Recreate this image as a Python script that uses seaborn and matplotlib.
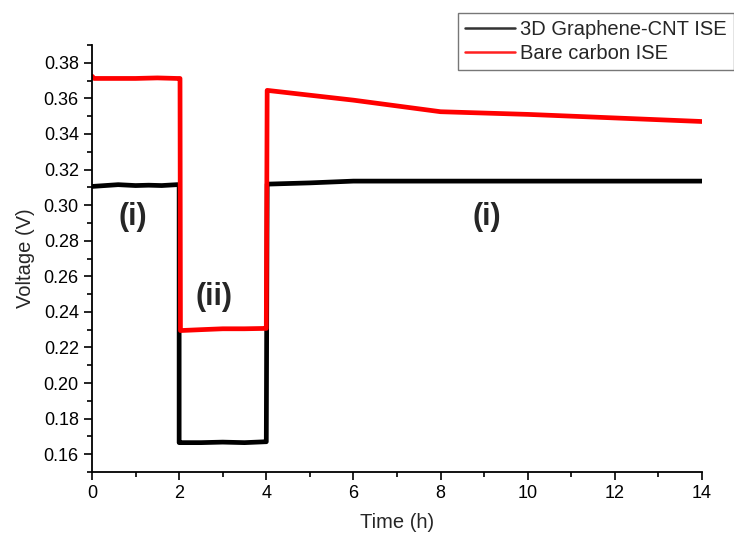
import matplotlib
matplotlib.use("Agg")
import matplotlib.pyplot as plt
import seaborn as sns
import pandas as pd
from matplotlib.lines import Line2D

# Data
t_gcnt = [0.0, 0.3, 0.6, 1.0, 1.3, 1.6, 1.95, 2.0, 2.0, 2.05, 2.5, 3.0, 3.5, 3.98, 4.0, 4.02, 5.0, 6.0, 8.0, 10.0, 12.0, 14.0]
v_gcnt = [0.3105, 0.3110, 0.3115, 0.3110, 0.3112, 0.3110, 0.3115, 0.3115, 0.1665, 0.1665, 0.1665, 0.1668, 0.1665, 0.1670, 0.1670, 0.3118, 0.3125, 0.3135, 0.3135, 0.3135, 0.3135, 0.3135]

t_bare = [0.0, 0.05, 0.5, 1.0, 1.5, 1.95, 2.02, 2.03, 2.5, 3.0, 3.5, 3.98, 4.0, 4.02, 6.0, 8.0, 10.0, 12.0, 14.0]
v_bare = [0.3725, 0.3712, 0.3712, 0.3712, 0.3715, 0.3712, 0.3712, 0.2295, 0.2300, 0.2305, 0.2305, 0.2307, 0.2307, 0.3645, 0.3590, 0.3525, 0.3510, 0.3490, 0.3470]

series_names = ["3D Graphene-CNT ISE", "Bare carbon ISE"]
x_ticks = [0, 2, 4, 6, 8, 10, 12, 14]
y_ticks = [0.16, 0.18, 0.20, 0.22, 0.24, 0.26, 0.28, 0.30, 0.32, 0.34, 0.36, 0.38]

df = pd.concat([
    pd.DataFrame({"t": t_gcnt, "v": v_gcnt, "s": series_names[0]}),
    pd.DataFrame({"t": t_bare, "v": v_bare, "s": series_names[1]}),
])

sns.set_style("ticks")
plt.rcParams["font.family"] = ["Liberation Sans", "DejaVu Sans"]

fig = plt.figure(figsize=(7.34, 5.39), dpi=100)
ax = fig.add_axes([92/734, 1 - 472/539, 610/734, (472-45)/539])

sns.lineplot(data=df, x="t", y="v", hue="s", palette={series_names[0]: "black", series_names[1]: "#ff0000"},
             estimator=None, sort=False, lw=3.4, ax=ax, legend=False)

ax.set_xlim(0, 14)
ax.set_ylim(0.15, 0.39)
ax.set_xticks(x_ticks)
ax.set_yticks(y_ticks)
ax.set_xticklabels([str(x) for x in x_ticks])
ax.set_yticklabels([f"{y:.2f}" for y in y_ticks])
ax.set_xticks([1, 3, 5, 7, 9, 11, 13], minor=True)
ax.set_yticks([0.15 + 0.02 * i for i in range(12)] + [0.39], minor=True)
ax.tick_params(which="major", direction="out", length=6, width=1.2, labelsize=13, colors="black", pad=3.5)
ax.tick_params(which="minor", direction="out", length=3.5, width=1.2, colors="black")
for sp in ["top", "right"]:
    ax.spines[sp].set_visible(False)
for sp in ["left", "bottom"]:
    ax.spines[sp].set_linewidth(1.3)
    ax.spines[sp].set_color("black")
ax.set_xlabel("Time (h)", fontsize=14.5, labelpad=8)
ax.set_ylabel("Voltage (V)", fontsize=14.5, labelpad=6)

ax.text(0.93, 0.2935, "(i)", fontsize=22, fontweight="bold", ha="center", va="center")
ax.text(2.81, 0.2485, "(ii)", fontsize=22, fontweight="bold", ha="center", va="center")
ax.text(9.06, 0.2935, "(i)", fontsize=22, fontweight="bold", ha="center", va="center")

handles = [Line2D([], [], color="#333333", lw=1.8), Line2D([], [], color="#ff2020", lw=1.8)]
leg = fig.legend(handles, series_names, loc="upper left", bbox_to_anchor=(458/734, 1 - 13/539),
                 fontsize=14.5, frameon=True, fancybox=False, edgecolor="#555555", handlelength=2.5,
                 handletextpad=0.25, borderpad=0.35, labelspacing=0.25, borderaxespad=0)
leg.get_frame().set_linewidth(1.0)

fig.savefig("out.png", dpi=100)
